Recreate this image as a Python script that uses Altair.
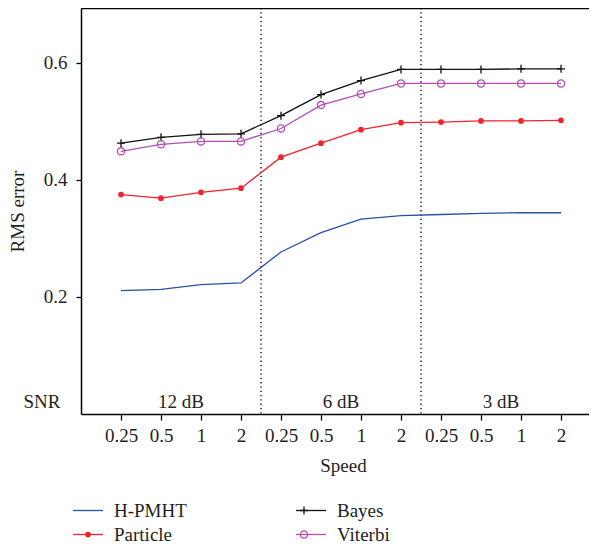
import altair as alt
import pandas as pd

# ---- data ----
speed_labels = ["0.25", "0.5", "1", "2"]
positions = list(range(1, 13))
series_names = ["H-PMHT", "Bayes", "Particle", "Viterbi"]
series_colors = ["#2b4fa6", "#111111", "#f0242c", "#b54db3"]
marker_shapes = [
    "M0,0L0,0",
    "M-0.4,0H0.4M0,-0.4V0.4",
    "M0.22,0A0.22,0.22,0,1,1,-0.22,0A0.22,0.22,0,1,1,0.22,0M0.12,0A0.12,0.12,0,1,1,-0.12,0A0.12,0.12,0,1,1,0.12,0M0.04,0A0.04,0.04,0,1,1,-0.04,0A0.04,0.04,0,1,1,0.04,0",
    "M0.36,0A0.36,0.36,0,1,1,-0.36,0A0.36,0.36,0,1,1,0.36,0",
]

hpmht = [0.211, 0.213, 0.221, 0.224, 0.277, 0.310, 0.333, 0.339, 0.341, 0.343, 0.344, 0.344]
particle = [0.375, 0.369, 0.379, 0.386, 0.439, 0.463, 0.486, 0.498, 0.499, 0.501, 0.501, 0.502]
bayes = [0.463, 0.473, 0.478, 0.479, 0.510, 0.546, 0.570, 0.589, 0.589, 0.589, 0.590, 0.590]
viterbi = [0.449, 0.461, 0.466, 0.466, 0.488, 0.528, 0.547, 0.565, 0.565, 0.565, 0.565, 0.565]

dividers = [4.5, 8.5]
snr_text = ["SNR", "12 dB", "6 dB", "3 dB"]
snr_x = [-0.975, 2.5, 6.5, 10.5]
snr_y = [0.0105, 0.0105, 0.0105, 0.0105]

FONT = "Liberation Serif"
FS = 19
TXT = "#231f20"

rows = []
for name, vals in zip(["H-PMHT", "Particle", "Bayes", "Viterbi"], [hpmht, particle, bayes, viterbi]):
    for p, v in zip(positions, vals):
        rows.append({"series": name, "mkey": name + " ", "pos": p, "value": v})
df = pd.DataFrame(rows)
div_df = pd.DataFrame({"x": dividers})
snr_df = pd.DataFrame({"label": snr_text, "x": snr_x, "y": snr_y})
marker_keys = [n + " " for n in series_names]

xscale = alt.Scale(domain=[0, 12.7], nice=False, zero=False)
yscale = alt.Scale(domain=[0, 0.694], nice=False, zero=False)

label_js = "[" + ",".join("'%s'" % s for s in speed_labels) + "]"

x_axis = alt.Axis(
    values=positions, labelExpr=label_js + "[(datum.value - 1) % 4]",
    title="Speed", titleFont=FONT, titleFontSize=FS, titleFontWeight="normal", titleColor=TXT,
    titlePadding=11, titleX=262,
    labelFont=FONT, labelFontSize=FS, labelColor=TXT, labelPadding=6,
    tickSize=6, tickColor="black", tickWidth=1.3, domainColor="black", domainWidth=1.5,
    grid=False, labelFlush=False,
)
y_axis = alt.Axis(
    values=[0.2, 0.4, 0.6], format=".1f",
    title="RMS error", titleFont=FONT, titleFontSize=FS, titleFontWeight="normal", titleColor=TXT,
    titlePadding=16,
    labelFont=FONT, labelFontSize=FS, labelColor=TXT, labelPadding=9,
    tickSize=5, tickColor="black", tickWidth=1.3, domainColor="black", domainWidth=1.5,
    grid=False,
)

LEG = dict(title=None, orient="none", legendX=-4, legendY=491.5, columns=2, direction="horizontal",
           columnPadding=106, rowPadding=3, padding=0, offset=0,
           symbolSize=400, symbolStrokeWidth=1.3, labelOffset=15, symbolOpacity=1,
           labelFont=FONT, labelFontSize=FS, labelLimit=0, labelExpr="trim(datum.label)")

lines = alt.Chart(df).mark_line(strokeWidth=1.3).encode(
    x=alt.X("pos:Q", scale=xscale, axis=x_axis),
    y=alt.Y("value:Q", scale=yscale, axis=y_axis),
    stroke=alt.Stroke("series:N", scale=alt.Scale(domain=series_names, range=series_colors),
                      legend=alt.Legend(symbolType="M-1.5,0H1.5", labelColor=TXT, zindex=0, **LEG)),
)

points = alt.Chart(df).transform_filter(alt.datum.series != "H-PMHT").mark_point(
    filled=False, size=400, strokeWidth=1.3, opacity=1
).encode(
    x=alt.X("pos:Q", scale=xscale, axis=None),
    y=alt.Y("value:Q", scale=yscale, axis=None),
    color=alt.Color("mkey:N", scale=alt.Scale(domain=marker_keys, range=series_colors),
                    legend=alt.Legend(labelOpacity=0, zindex=1, **LEG)),
    shape=alt.Shape("mkey:N", scale=alt.Scale(domain=marker_keys, range=marker_shapes),
                    legend=alt.Legend(labelOpacity=0, zindex=1, **LEG)),
)

rules = alt.Chart(div_df).mark_rule(strokeDash=[1.3, 3], color="black", strokeWidth=1.3).encode(
    x=alt.X("x:Q", scale=xscale,
            axis=alt.Axis(orient="top", labels=False, ticks=False, title=None, grid=False,
                          domainColor="black", domainWidth=1.5)),
)

texts = alt.Chart(snr_df).mark_text(font=FONT, fontSize=FS, color=TXT, baseline="alphabetic",
                                    align="center").encode(
    x=alt.X("x:Q", scale=xscale, axis=None),
    y=alt.Y("y:Q", scale=yscale, axis=None),
    text="label:N",
)

chart = alt.layer(rules, lines, points, texts).resolve_axis(
    x="independent", y="independent"
).properties(
    width=508, height=406,
    autosize=alt.AutoSizeParams(type="none"),
    padding={"left": 73, "top": 0, "right": 0, "bottom": 128},
).configure_view(stroke=None).configure(
    background="white", font=FONT
).configure_legend(labelFont=FONT, labelFontSize=FS)

chart.save("out.html", embed_options={"renderer": "svg", "actions": False})
